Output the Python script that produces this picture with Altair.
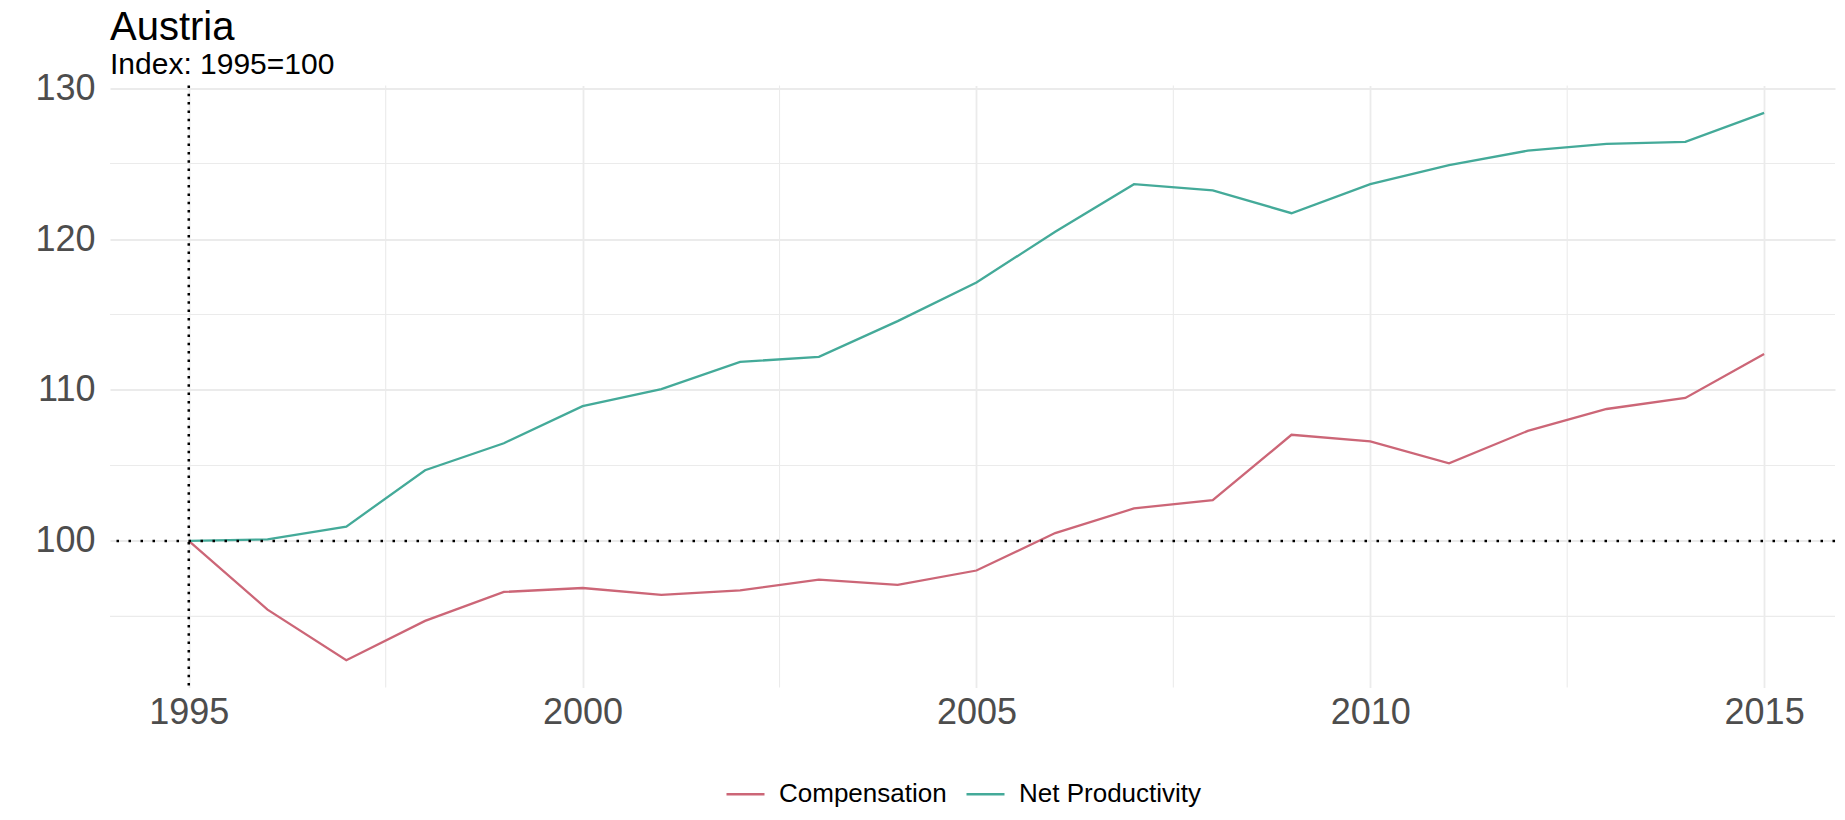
import altair as alt
import pandas as pd

# ---- data ----
years = list(range(1995, 2016))
compensation = [100, 95.45, 92.1, 94.7, 96.62, 96.88, 96.43, 96.73, 97.44, 97.09, 98.04,
                100.52, 102.15, 102.7, 107.03, 106.6, 105.14, 107.29, 108.74, 109.47, 112.38]
net_productivity = [100, 100.1, 100.95, 104.68, 106.47, 108.93, 110.06, 111.86, 112.19, 114.56, 117.12,
                    120.48, 123.63, 123.22, 121.71, 123.63, 124.9, 125.85, 126.3, 126.44, 128.36]
series_names = ["Compensation", "Net Productivity"]
series_colors = ["#CC6677", "#44AA99"]
x_ticks = [1995, 2000, 2005, 2010, 2015]
x_minor = [1997.5, 2002.5, 2007.5, 2012.5]
y_ticks = [100, 110, 120, 130]
y_minor = [95, 105, 115, 125]
base_year = [1995]
base_index = [100]

FONT = "Liberation Sans"

df = pd.DataFrame({
    "year": years + years,
    "value": compensation + net_productivity,
    "series": [series_names[0]] * len(years) + [series_names[1]] * len(years),
})

xscale = alt.Scale(domain=[1994, 2015.9], nice=False, zero=False)
yscale = alt.Scale(domain=[90.29, 130.17], nice=False, zero=False)

x_axis = alt.Axis(values=x_ticks, format="d", title=None, grid=True, gridColor="#EBEBEB",
                  gridWidth=1.8, ticks=False, domain=False, labelFontSize=36,
                  labelColor="#4D4D4D", labelPadding=8, labelFont=FONT)
y_axis = alt.Axis(values=y_ticks, title=None, grid=True, gridColor="#EBEBEB",
                  gridWidth=1.8, ticks=False, domain=False, labelFontSize=36,
                  labelColor="#4D4D4D", labelPadding=15, labelFont=FONT)

lines = alt.Chart(df).mark_line(strokeWidth=2.3).encode(
    x=alt.X("year:Q", scale=xscale, axis=x_axis),
    y=alt.Y("value:Q", scale=yscale, axis=y_axis),
    color=alt.Color(
        "series:N",
        scale=alt.Scale(domain=series_names, range=series_colors),
        legend=alt.Legend(
            title=None, orient="none", legendX=615, legendY=688,
            direction="horizontal", symbolType="stroke", symbolSize=1444,
            symbolStrokeWidth=2.5, labelFontSize=26, labelColor="black",
            labelFont=FONT, labelOffset=13, columnPadding=14, labelLimit=500,
        ),
    ),
)

minor_x = alt.Chart(pd.DataFrame({"year": x_minor})).mark_rule(
    color="#EBEBEB", strokeWidth=1.1
).encode(x=alt.X("year:Q", scale=xscale))

minor_y = alt.Chart(pd.DataFrame({"value": y_minor})).mark_rule(
    color="#EBEBEB", strokeWidth=1.1
).encode(y=alt.Y("value:Q", scale=yscale))

vref = alt.Chart(pd.DataFrame({"year": base_year})).mark_rule(
    color="black", strokeWidth=2.5, strokeDash=[2.5, 5.8]
).encode(x=alt.X("year:Q", scale=xscale))

href = alt.Chart(pd.DataFrame({"value": base_index})).mark_rule(
    color="black", strokeWidth=2.5, strokeDash=[2.5, 9.5]
).encode(y=alt.Y("value:Q", scale=yscale))

chart = alt.layer(minor_x, minor_y, lines, vref, href).properties(
    width=1725,
    height=602,
    autosize=alt.AutoSizeParams(type="none"),
    padding={"left": 102, "top": 77.5, "right": 2, "bottom": 124.5},
    title=alt.TitleParams(
        text="Austria", subtitle="Index: 1995=100", anchor="start", frame="group",
        font=FONT, subtitleFont=FONT, fontSize=40, subtitleFontSize=30,
        fontWeight="normal", color="black", subtitleColor="black",
        subtitlePadding=2, offset=-10,
    ),
).configure(background="white").configure_view(stroke=None)

chart.save("out.html", embed_options={"renderer": "svg", "actions": False})
